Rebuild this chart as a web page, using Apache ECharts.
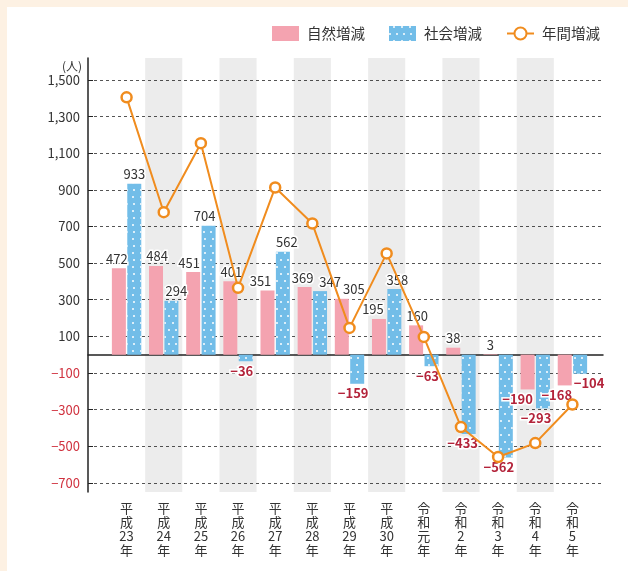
<!DOCTYPE html>
<html>
<head>
<meta charset="utf-8">
<script src="https://cdn.jsdelivr.net/npm/echarts@6/dist/echarts.min.js"></script>
<style>
  html, body { margin: 0; padding: 0; background: #fdf1e3; }
  #panel { position: absolute; left: 7px; top: 7px; width: 621px; height: 564px; background: #fff; }
  #main { position: absolute; left: 0; top: 0; width: 628px; height: 571px; }
</style>
</head>
<body>
<div id="panel"></div>
<div id="main"></div>
<script>
var years = ['平\n成\n23\n年', '平\n成\n24\n年', '平\n成\n25\n年', '平\n成\n26\n年', '平\n成\n27\n年',
  '平\n成\n28\n年', '平\n成\n29\n年', '平\n成\n30\n年', '令\n和\n元\n年', '令\n和\n2\n年',
  '令\n和\n3\n年', '令\n和\n4\n年', '令\n和\n5\n年'];
var natural = [472, 484, 451, 401, 351, 369, 305, 195, 160, 38, 3, -190, -168];
var social = [933, 294, 704, -36, 562, 347, -159, 358, -63, -433, -562, -293, -104];
var total = [1405, 778, 1155, 365, 913, 716, 146, 553, 97, -395, -559, -483, -272];
var yTicks = [-700, -500, -300, -100, 100, 300, 500, 700, 900, 1100, 1300, 1500];

// nudges so labels sit like in the printed chart
var natShift = [-2, 1, -4, 1, -7, -2, 12, -6, 1, 0, 0, -10, -8];
var socShift = [0, 5, -4, -4, 4, 10, -4, 3, -4, -6, -7, -7, 9];

var FONT = '"Noto Sans CJK JP", "Noto Sans", sans-serif';
var ORANGE = '#f08c1e';
var NEG = '#b3233a';

function fmtNum(v) {
  return v < 0 ? '\u2212' + Math.abs(v) : v.toLocaleString('en-US');
}

function barData(values, shifts) {
  return values.map(function (v, i) {
    return {
      value: v,
      label: {
        position: v < 0 ? 'bottom' : 'top',
        offset: [shifts[i], 0],
        color: v < 0 ? NEG : '#333',
        fontWeight: v < 0 ? 'bold' : 'normal'
      }
    };
  });
}

var barLabel = {
  show: true,
  fontFamily: FONT,
  fontSize: 13,
  distance: 3,
  textBorderColor: '#fff',
  textBorderWidth: 3,
  formatter: function (p) { return fmtNum(p.value); }
};

var chart = echarts.init(document.getElementById('main'));

var option = {
  textStyle: { fontFamily: FONT },
  animation: false,
  legend: {
    left: 272,
    top: 26,
    padding: 0,
    itemWidth: 27,
    itemHeight: 15,
    itemGap: 24,
    textStyle: { fontSize: 14.5, color: '#333', fontFamily: FONT, padding: [0, 0, 0, 3] },
    data: [
      { name: '自然増減', icon: 'rect' },
      { name: '社会増減', icon: 'rect' },
      { name: '年間増減' }
    ]
  },
  grid: [
    { left: 88, right: 25, top: 58, bottom: 79 },
    { left: 108, right: 37, top: 58, bottom: 79 }
  ],
  xAxis: [
    {
      type: 'value',
      gridIndex: 0,
      min: 0,
      max: 1,
      axisLine: { show: true, onZero: true, lineStyle: { color: '#222', width: 1.5 } },
      axisTick: { show: false },
      axisLabel: { show: false },
      splitLine: { show: false }
    },
    {
      type: 'category',
      gridIndex: 1,
      data: years,
      axisLine: { show: false },
      axisTick: { show: false },
      axisLabel: {
        interval: 0,
        margin: 9,
        fontSize: 13,
        lineHeight: 14,
        color: '#333',
        fontFamily: FONT
      },
      splitArea: {
        show: true,
        interval: 0,
        areaStyle: { color: ['rgba(0,0,0,0)', 'rgba(0,0,0,0.075)'] }
      }
    }
  ],
  yAxis: [
    {
      type: 'value',
      gridIndex: 0,
      min: -750,
      max: 1620,
      name: '(人)',
      nameLocation: 'end',
      nameGap: -2,
      nameTextStyle: {
        align: 'right',
        verticalAlign: 'top',
        padding: [0, 6, 0, 0],
        fontSize: 12,
        color: '#333',
        fontFamily: FONT
      },
      axisLine: { show: true, lineStyle: { color: '#222', width: 1.5 } },
      axisTick: {
        show: true,
        inside: true,
        length: 5,
        customValues: yTicks,
        lineStyle: { color: '#222' }
      },
      axisLabel: {
        customValues: yTicks,
        margin: 8,
        fontSize: 13,
        fontFamily: FONT,
        formatter: fmtNum,
        color: function (v) { return Number(v) < 0 ? '#d0323f' : '#333'; }
      },
      splitLine: {
        show: true,
        lineStyle: { color: '#555', type: [3, 3], width: 1 }
      }
    },
    {
      type: 'value',
      gridIndex: 1,
      min: -750,
      max: 1620,
      show: false,
      splitLine: { show: false }
    }
  ],
  series: [
    {
      name: '自然増減',
      type: 'bar',
      xAxisIndex: 1,
      yAxisIndex: 1,
      barWidth: 14,
      barGap: '10%',
      itemStyle: { color: '#f4a3b0' },
      label: barLabel,
      data: barData(natural, natShift)
    },
    {
      name: '社会増減',
      type: 'bar',
      xAxisIndex: 1,
      yAxisIndex: 1,
      barWidth: 14,
      itemStyle: {
        color: '#72bde8',
        decal: {
          symbol: 'circle',
          symbolSize: 1,
          color: '#ffffff',
          dashArrayX: [[2, 5], [0, 3.5, 2, 1.5]],
          dashArrayY: [2, 5],
          rotation: 0
        }
      },
      label: barLabel,
      data: barData(social, socShift)
    },
    {
      name: '年間増減',
      type: 'line',
      xAxisIndex: 1,
      yAxisIndex: 1,
      z: 5,
      symbol: 'circle',
      symbolSize: 10,
      lineStyle: { color: ORANGE, width: 2 },
      itemStyle: { color: '#fff', borderColor: ORANGE, borderWidth: 2.5 },
      data: total
    }
  ]
};

chart.setOption(option);
</script>
</body>
</html>
